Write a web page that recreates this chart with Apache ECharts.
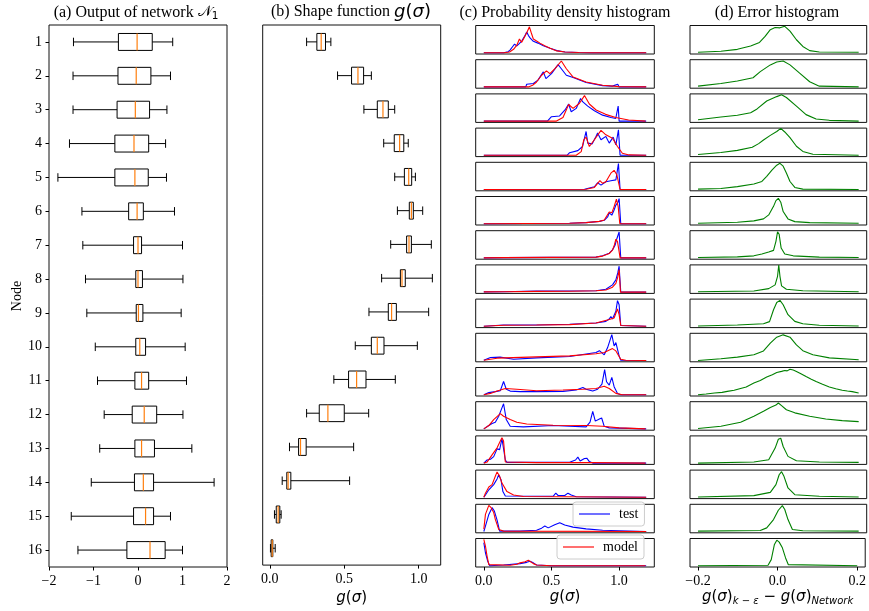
<!DOCTYPE html>
<html>
<head>
<meta charset="utf-8">
<script src="https://cdn.jsdelivr.net/npm/echarts@6/dist/echarts.min.js"></script>
<style>html,body{margin:0;padding:0;background:#fff;}#c{width:869px;height:611px;}</style>
</head>
<body>
<div id="c"></div>
<script>
// ---------------- data ----------------
const nodeLabels = ['1','2','3','4','5','6','7','8','9','10','11','12','13','14','15','16'];
// [whiskerLow, Q1, median, Q3, whiskerHigh]
const networkOutput = [
  [-1.45,-0.44,-0.02,0.32,0.78],[-1.46,-0.45,-0.04,0.29,0.73],[-1.46,-0.47,-0.06,0.26,0.65],
  [-1.54,-0.52,-0.09,0.24,0.62],[-1.80,-0.52,-0.07,0.23,0.64],[-1.26,-0.21,-0.02,0.12,0.82],
  [-1.24,-0.10,0.00,0.08,1.00],[-1.18,-0.05,0.00,0.10,1.01],[-1.15,-0.04,0.01,0.11,0.97],
  [-0.96,-0.05,0.04,0.17,1.06],[-0.91,-0.07,0.08,0.24,1.09],[-0.76,-0.13,0.14,0.42,1.01],
  [-0.86,-0.07,0.08,0.37,1.21],[-1.05,-0.08,0.12,0.35,1.71],[-1.50,-0.10,0.17,0.35,0.73],
  [-1.35,-0.25,0.27,0.61,1.00]
];
const shapeFunction = [
  [0.247,0.316,0.345,0.374,0.41],[0.455,0.549,0.592,0.63,0.682],[0.632,0.722,0.76,0.796,0.839],
  [0.765,0.836,0.872,0.90,0.93],[0.839,0.904,0.933,0.953,0.978],[0.857,0.937,0.951,0.964,1.027],
  [0.812,0.919,0.935,0.951,1.085],[0.751,0.877,0.888,0.91,1.092],[0.666,0.796,0.818,0.85,1.067],
  [0.574,0.682,0.722,0.767,0.991],[0.43,0.529,0.583,0.646,0.843],[0.247,0.332,0.39,0.50,0.664],
  [0.132,0.193,0.206,0.244,0.563],[0.083,0.114,0.123,0.141,0.536],[0.031,0.043,0.056,0.067,0.076],
  [0.004,0.009,0.016,0.020,0.036]
];
// probability density, test (blue) per node: [g, density(normalised)]
const densTest = [
  [[0,0],[0.146,0],[0.18,0.04],[0.195,0.11],[0.215,0.25],[0.227,0.33],[0.244,0.26],[0.26,0.34],[0.28,0.45],[0.3,0.62],[0.317,0.80],[0.33,0.66],[0.345,0.55],[0.366,0.44],[0.40,0.37],[0.44,0.27],[0.49,0.17],[0.54,0.08],[0.6,0.03],[0.7,0.01],[0.8,0],[1.2,0]],
  [[0,0],[0.31,0],[0.317,0.1],[0.366,0.13],[0.40,0.26],[0.44,0.58],[0.459,0.32],[0.5,0.51],[0.549,0.86],[0.573,0.70],[0.61,0.45],[0.66,0.36],[0.756,0.17],[0.878,0.05],[0.95,0.03],[0.99,0.1],[1.0,0],[1.2,0]],
  [[0,0],[0.47,0],[0.5,0.17],[0.56,0.2],[0.6,0.43],[0.627,0.66],[0.646,0.36],[0.683,0.49],[0.715,0.87],[0.73,0.75],[0.768,0.58],[0.817,0.40],[0.878,0.23],[0.94,0.14],[0.975,0.10],[0.993,0.58],[1.0,0],[1.2,0]],
  [[0,0],[0.615,0],[0.634,0.1],[0.695,0.18],[0.73,0.34],[0.744,0.66],[0.756,0.92],[0.768,0.47],[0.8,0.44],[0.829,0.73],[0.841,0.86],[0.866,0.6],[0.902,0.73],[0.927,0.47],[0.956,0.70],[0.976,0.40],[0.995,0.985],[1.007,0],[1.2,0]],
  [[0,0],[0.744,0.01],[0.817,0.107],[0.841,0.26],[0.866,0.17],[0.902,0.30],[0.939,0.34],[0.976,0.37],[0.995,1.0],[1.007,0],[1.2,0]],
  [[0,0],[0.634,0.015],[0.756,0.04],[0.854,0.09],[0.89,0.13],[0.915,0.26],[0.927,0.42],[0.946,0.33],[0.963,0.53],[0.976,0.72],[0.99,0.81],[1.0,0.97],[1.012,0],[1.2,0]],
  [[0,0],[0.146,0.01],[0.5,0.02],[0.829,0.03],[0.878,0.08],[0.927,0.18],[0.951,0.31],[0.971,0.5],[0.98,0.69],[0.993,0.69],[1.0,1.0],[1.012,0],[1.2,0]],
  [[0,0.01],[0.146,0.015],[0.39,0.04],[0.634,0.04],[0.829,0.055],[0.902,0.11],[0.951,0.28],[0.976,0.47],[0.99,0.74],[1.0,1.0],[1.012,0],[1.2,0]],
  [[0,0],[0.146,0.05],[0.39,0.05],[0.634,0.08],[0.829,0.13],[0.902,0.19],[0.927,0.28],[0.939,0.38],[0.951,0.28],[0.976,0.58],[0.988,0.99],[1.0,0.83],[1.012,0.03],[1.024,0],[1.2,0]],
  [[0,0.01],[0.049,0.116],[0.12,0.13],[0.22,0.05],[0.39,0.1],[0.634,0.155],[0.829,0.31],[0.854,0.38],[0.89,0.22],[0.915,0.5],[0.946,1.0],[0.963,0.56],[0.976,0.69],[1.0,0.18],[1.012,0.01],[1.2,0]],
  [[0,0],[0.037,0.08],[0.085,0.12],[0.122,0.155],[0.146,0.51],[0.166,0.21],[0.195,0.14],[0.268,0.12],[0.39,0.12],[0.585,0.13],[0.683,0.18],[0.732,0.28],[0.756,0.21],[0.805,0.14],[0.841,0.21],[0.873,0.41],[0.893,0.97],[0.907,0.5],[0.927,0.37],[0.946,0.67],[0.963,0.31],[0.988,0.05],[1.012,0],[1.2,0]],
  [[0,0],[0.037,0.13],[0.061,0.21],[0.085,0.26],[0.11,0.49],[0.134,0.81],[0.146,0.97],[0.166,0.36],[0.195,0.10],[0.293,0.08],[0.512,0.13],[0.634,0.10],[0.756,0.08],[0.785,0.26],[0.805,0.68],[0.824,0.30],[0.854,0.38],[0.871,0.42],[0.89,0.10],[0.927,0.04],[1.2,0]],
  [[0,0],[0.024,0.12],[0.049,0.15],[0.073,0.25],[0.098,0.55],[0.117,0.52],[0.134,0.94],[0.146,0.94],[0.159,0.12],[0.171,0.03],[0.634,0.03],[0.678,0.12],[0.695,0.23],[0.712,0.08],[0.744,0.18],[0.761,0.19],[0.78,0.06],[0.805,0],[1.2,0]],
  [[0,0],[0.012,0.09],[0.037,0.29],[0.073,0.49],[0.098,0.71],[0.11,0.87],[0.127,0.68],[0.141,0.22],[0.159,0.05],[0.512,0.04],[0.532,0.16],[0.549,0.07],[0.598,0.07],[0.622,0.16],[0.646,0.09],[0.683,0.02],[1.2,0]],
  [[0,0],[0.012,0.21],[0.037,0.66],[0.061,0.92],[0.078,0.79],[0.098,0.44],[0.117,0.015],[0.268,0.015],[0.39,0.05],[0.427,0.13],[0.451,0.21],[0.476,0.14],[0.524,0.26],[0.561,0.34],[0.598,0.25],[0.659,0.17],[0.756,0.1],[0.878,0.05],[1.0,0.03],[1.2,0]],
  [[0,0.89],[0.012,0.5],[0.029,0.17],[0.044,0],[0.146,0.03],[0.268,0.08],[0.317,0.13],[0.341,0.17],[0.366,0.11],[0.39,0.03],[0.5,0],[1.2,0]]
];
// probability density, model (red) per node
const densModel = [
  [[0,0],[0.15,0],[0.19,0.03],[0.22,0.13],[0.245,0.3],[0.263,0.53],[0.28,0.4],[0.3,0.6],[0.32,0.8],[0.337,1.0],[0.35,0.78],[0.366,0.53],[0.39,0.45],[0.415,0.37],[0.45,0.27],[0.49,0.17],[0.54,0.07],[0.6,0.03],[0.7,0.01],[0.8,0],[1.2,0]],
  [[0,0],[0.33,0],[0.36,0.06],[0.39,0.19],[0.427,0.45],[0.463,0.62],[0.488,0.51],[0.524,0.70],[0.573,1.0],[0.61,0.70],[0.66,0.38],[0.756,0.19],[0.878,0.065],[1.0,0.01],[1.2,0]],
  [[0,0],[0.537,0],[0.585,0.14],[0.627,0.64],[0.66,0.49],[0.707,0.69],[0.744,0.985],[0.78,0.66],[0.83,0.43],[0.90,0.26],[0.975,0.14],[1.07,0.04],[1.195,0]],
  [[0,0],[0.683,0],[0.72,0.14],[0.739,0.6],[0.756,0.7],[0.78,0.34],[0.817,0.6],[0.866,0.96],[0.902,0.79],[0.951,0.66],[0.988,0.34],[1.024,0.08],[1.073,0.015],[1.2,0]],
  [[0,0],[0.756,0.01],[0.817,0.08],[0.858,0.34],[0.878,0.24],[0.902,0.30],[0.939,0.63],[0.963,0.74],[0.983,0.57],[1.007,0],[1.2,0]],
  [[0,0],[0.634,0.015],[0.756,0.04],[0.854,0.09],[0.89,0.14],[0.927,0.45],[0.946,0.42],[0.963,0.66],[0.98,0.95],[0.993,0.66],[1.005,0],[1.2,0]],
  [[0,0],[0.146,0.01],[0.5,0.02],[0.829,0.03],[0.878,0.07],[0.927,0.17],[0.951,0.3],[0.965,0.5],[0.976,0.72],[0.988,0.63],[0.998,0.31],[1.007,0],[1.2,0]],
  [[0,0.01],[0.146,0.015],[0.39,0.03],[0.634,0.035],[0.829,0.05],[0.902,0.08],[0.951,0.19],[0.976,0.34],[0.99,0.58],[1.0,0.87],[1.01,0],[1.2,0]],
  [[0,0],[0.146,0.04],[0.39,0.05],[0.634,0.065],[0.829,0.13],[0.927,0.26],[0.963,0.32],[0.988,0.67],[1.0,0.45],[1.012,0.03],[1.024,0],[1.2,0]],
  [[0,0.01],[0.098,0.09],[0.39,0.14],[0.634,0.18],[0.829,0.26],[0.89,0.31],[0.951,0.46],[0.976,0.37],[1.012,0.05],[1.049,0.01],[1.2,0]],
  [[0,0],[0.049,0.05],[0.098,0.14],[0.159,0.24],[0.244,0.21],[0.39,0.155],[0.585,0.18],[0.732,0.21],[0.829,0.24],[0.89,0.33],[0.927,0.24],[0.976,0.05],[1.024,0],[1.2,0]],
  [[0,0],[0.037,0.13],[0.073,0.36],[0.122,0.59],[0.146,0.49],[0.195,0.36],[0.244,0.26],[0.317,0.19],[0.512,0.14],[0.756,0.13],[0.878,0.10],[1.0,0.04],[1.195,0]],
  [[0,0],[0.024,0.04],[0.061,0.32],[0.098,0.59],[0.122,0.85],[0.134,0.98],[0.146,0.85],[0.159,0.04],[0.39,0.02],[0.805,0.02],[1.195,0]],
  [[0,0],[0.012,0.16],[0.037,0.4],[0.061,0.49],[0.085,0.81],[0.098,0.98],[0.117,0.81],[0.134,0.55],[0.171,0.22],[0.22,0.09],[0.293,0.03],[1.2,0]],
  [[0,0.09],[0.012,0.66],[0.037,1.01],[0.054,0.92],[0.073,0.73],[0.085,0.47],[0.11,0.08],[0.146,0.015],[1.2,0]],
  [[0,1.02],[0.012,0.76],[0.024,0.37],[0.037,0.04],[0.049,0],[0.195,0.015],[0.244,0.055],[0.268,0.11],[0.305,0.15],[0.329,0.21],[0.341,0.17],[0.366,0.08],[0.39,0.03],[0.5,0],[1.195,0]]
];
// error histogram per node: [error, density(normalised)]
const errHist = [
  [[-0.2,0.015],[-0.143,0.055],[-0.102,0.13],[-0.069,0.26],[-0.047,0.395],[-0.033,0.63],[-0.02,0.89],[-0.008,0.97],[0.004,0.96],[0.016,1.02],[0.029,0.83],[0.045,0.5],[0.061,0.24],[0.078,0.08],[0.102,0.03],[0.2,0.015]],
  [[-0.2,0.03],[-0.143,0.13],[-0.102,0.225],[-0.063,0.355],[-0.045,0.59],[-0.02,0.85],[-0.004,0.96],[0.012,1.0],[0.029,0.85],[0.053,0.53],[0.078,0.2],[0.102,0.03],[0.2,0]],
  [[-0.2,0.055],[-0.143,0.16],[-0.102,0.225],[-0.069,0.32],[-0.053,0.47],[-0.029,0.775],[-0.004,0.945],[0.008,1.02],[0.02,0.91],[0.045,0.58],[0.069,0.25],[0.094,0.08],[0.127,0.03],[0.2,0]],
  [[-0.2,0.03],[-0.143,0.11],[-0.102,0.19],[-0.065,0.31],[-0.049,0.45],[-0.037,0.59],[-0.02,0.77],[-0.004,0.92],[0.006,1.04],[0.016,0.9],[0.029,0.68],[0.045,0.35],[0.061,0.15],[0.086,0.04],[0.2,0]],
  [[-0.2,0.015],[-0.143,0.04],[-0.102,0.11],[-0.061,0.215],[-0.041,0.31],[-0.029,0.51],[-0.016,0.75],[-0.004,0.94],[0.004,1.01],[0.012,0.9],[0.02,0.64],[0.029,0.31],[0.041,0.08],[0.061,0.015],[0.2,0]],
  [[-0.2,0.015],[-0.102,0.055],[-0.061,0.11],[-0.037,0.185],[-0.024,0.34],[-0.012,0.67],[-0.006,0.89],[0,0.98],[0.006,0.83],[0.012,0.47],[0.024,0.185],[0.041,0.08],[0.078,0.04],[0.2,0.015]],
  [[-0.2,0.015],[-0.102,0.04],[-0.061,0.08],[-0.041,0.15],[-0.024,0.225],[-0.012,0.29],[-0.006,0.64],[-0.002,1.01],[0.002,0.91],[0.007,0.38],[0.016,0.15],[0.037,0.08],[0.102,0.03],[0.2,0.015]],
  [[-0.2,0.015],[-0.061,0.04],[-0.024,0.135],[-0.008,0.28],[-0.002,0.61],[0.001,1.04],[0.004,0.61],[0.008,0.24],[0.02,0.11],[0.061,0.055],[0.2,0.015]],
  [[-0.2,0.014],[-0.102,0.05],[-0.037,0.1],[-0.022,0.18],[-0.012,0.64],[-0.004,0.92],[0.004,1.0],[0.012,0.83],[0.024,0.45],[0.041,0.19],[0.061,0.1],[0.102,0.04],[0.2,0.014]],
  [[-0.2,0],[-0.143,0.065],[-0.102,0.13],[-0.061,0.22],[-0.037,0.37],[-0.02,0.67],[-0.004,0.9],[0.012,0.99],[0.029,0.9],[0.045,0.6],[0.061,0.38],[0.086,0.22],[0.127,0.1],[0.2,0.03]],
  [[-0.2,0],[-0.18,0.03],[-0.159,0.065],[-0.14,0.09],[-0.127,0.13],[-0.11,0.17],[-0.094,0.24],[-0.08,0.3],[-0.061,0.45],[-0.045,0.55],[-0.029,0.68],[-0.015,0.77],[-0.004,0.86],[0.008,0.9],[0.016,0.935],[0.022,0.92],[0.029,0.985],[0.037,0.95],[0.045,0.9],[0.055,0.82],[0.069,0.7],[0.082,0.6],[0.094,0.51],[0.11,0.4],[0.127,0.3],[0.143,0.23],[0.159,0.17],[0.172,0.14],[0.184,0.12],[0.2,0.065]],
  [[-0.2,0.014],[-0.143,0.10],[-0.094,0.26],[-0.061,0.49],[-0.037,0.68],[-0.02,0.83],[-0.006,0.92],[0,1.0],[0.008,0.9],[0.02,0.74],[0.041,0.62],[0.078,0.49],[0.118,0.38],[0.159,0.32],[0.2,0.28]],
  [[-0.2,0],[-0.061,0.04],[-0.024,0.13],[-0.008,0.58],[0,0.92],[0.006,0.96],[0.012,0.64],[0.024,0.26],[0.045,0.09],[0.102,0.04],[0.2,0.027]],
  [[-0.2,0.014],[-0.061,0.065],[-0.02,0.19],[-0.006,0.49],[0.002,0.87],[0.008,0.99],[0.014,0.81],[0.024,0.36],[0.041,0.1],[0.102,0.04],[0.2,0.014]],
  [[-0.2,0.014],[-0.045,0.04],[-0.029,0.14],[-0.012,0.46],[0,0.82],[0.01,1.0],[0.016,0.85],[0.024,0.46],[0.035,0.08],[0.061,0.027],[0.2,0.014]],
  [[-0.2,0],[-0.024,0.015],[-0.016,0.235],[-0.008,0.82],[-0.002,0.985],[0.004,0.91],[0.012,0.69],[0.02,0.3],[0.027,0.04],[0.2,0]]
];
const ticksA = [-2,-1,0,1,2];
const ticksB = [0,0.5,1.0];
const ticksC = [0,0.5,1.0];
const ticksD = [-0.2,0,0.2];

// ---------------- chart ----------------
const SERIF = "'Liberation Serif','Times New Roman',serif";
const MATH = "'DejaVu Sans'";
const fmt1 = v => (v < 0 ? '\u2212' : '') + Math.abs(v).toFixed(1);
const fmt0 = v => (v < 0 ? '\u2212' : '') + Math.abs(v).toFixed(0);
const mathRich = {
  i: {fontFamily: MATH, fontStyle: 'italic', fontSize: 15, color: '#000'},
  r: {fontFamily: MATH, fontSize: 15, color: '#000'},
  s: {fontFamily: MATH, fontStyle: 'italic', fontSize: 10, color: '#000', padding: [8, 0, 0, 0]},
  t: {fontFamily: SERIF, fontSize: 16, color: '#000'}
};

function boxRender(params, api) {
  const cat = api.value(0);
  const v = [1,2,3,4,5].map(k => api.coord([api.value(k), cat])[0]);
  const yc = api.coord([api.value(1), cat])[1];
  const bh = api.size([0, 1])[1] * 0.25;
  const ch = bh * 0.5;
  const ls = {stroke: '#000', lineWidth: 1};
  return {type: 'group', children: [
    {type: 'line', shape: {x1: v[0], y1: yc, x2: v[1], y2: yc}, style: ls},
    {type: 'line', shape: {x1: v[3], y1: yc, x2: v[4], y2: yc}, style: ls},
    {type: 'line', shape: {x1: v[0], y1: yc - ch, x2: v[0], y2: yc + ch}, style: ls},
    {type: 'line', shape: {x1: v[4], y1: yc - ch, x2: v[4], y2: yc + ch}, style: ls},
    {type: 'rect', shape: {x: v[1], y: yc - bh, width: v[3] - v[1], height: 2 * bh}, style: {fill: 'none', stroke: '#000', lineWidth: 1}},
    {type: 'line', shape: {x1: v[2], y1: yc - bh, x2: v[2], y2: yc + bh}, style: {stroke: '#ff7f0e', lineWidth: 1.2}}
  ]};
}

const grids = [], xAxes = [], yAxes = [], series = [];
const frame = {show: true, borderColor: '#111', borderWidth: 1, backgroundColor: 'transparent'};
// panel a
grids.push(Object.assign({left: 49, top: 25, width: 178, height: 542}, frame));
xAxes.push({gridIndex: 0, type: 'value', min: -2, max: 2, interval: 1,
  axisLine: {show: false, onZero: false}, splitLine: {show: false},
  axisTick: {show: true, length: 3.5, lineStyle: {color: '#000'}},
  axisLabel: {formatter: fmt0, fontFamily: SERIF, fontSize: 14, color: '#000', margin: 7}});
yAxes.push({gridIndex: 0, type: 'category', data: nodeLabels, inverse: true,
  axisLine: {show: false, onZero: false}, splitLine: {show: false},
  axisTick: {show: true, alignWithLabel: true, length: 3.5, lineStyle: {color: '#000'}},
  axisLabel: {fontFamily: SERIF, fontSize: 14, color: '#000', margin: 7},
  name: 'Node', nameLocation: 'middle', nameGap: 25, nameRotate: 90,
  nameTextStyle: {fontFamily: SERIF, fontSize: 14, color: '#000'}});
series.push({type: 'custom', xAxisIndex: 0, yAxisIndex: 0, renderItem: boxRender,
  encode: {x: [1,2,3,4,5], y: 0}, data: networkOutput.map((s, i) => [i].concat(s))});
// panel b
grids.push(Object.assign({left: 262.7, top: 25, width: 178, height: 542}, frame));
xAxes.push({gridIndex: 1, type: 'value', min: -0.048, max: 1.148,
  axisLine: {show: false, onZero: false}, splitLine: {show: false},
  axisTick: {show: true, length: 3.5, customValues: ticksB, lineStyle: {color: '#000'}},
  axisLabel: {customValues: ticksB, formatter: fmt1, fontFamily: SERIF, fontSize: 14, color: '#000', margin: 7},
  name: '{i|g}{r|(}{i|σ}{r|)}', nameLocation: 'middle', nameGap: 23,
  nameTextStyle: {rich: mathRich}});
yAxes.push({gridIndex: 1, type: 'category', data: nodeLabels, inverse: true,
  axisLine: {show: false, onZero: false}, axisTick: {show: false}, axisLabel: {show: false}, splitLine: {show: false}});
series.push({type: 'custom', xAxisIndex: 1, yAxisIndex: 1, renderItem: boxRender,
  encode: {x: [1,2,3,4,5], y: 0}, data: shapeFunction.map((s, i) => [i].concat(s))});

// panels c and d
for (let i = 0; i < 16; i++) {
  const top = 25.5 + i * 34.2;
  const last = i === 15;
  [['c', 475.7, 178.6, -0.06, 1.26, ticksC], ['d', 690, 176.7, -0.22, 0.22, ticksD]].forEach(p => {
    const gi = grids.length;
    grids.push(Object.assign({left: p[1], top: top, width: p[2], height: 28.5}, frame));
    const xa = {gridIndex: gi, type: 'value', min: p[3], max: p[4],
      axisLine: {show: false, onZero: false}, splitLine: {show: false},
      axisTick: {show: last, length: 3.5, customValues: p[5], lineStyle: {color: '#000'}},
      axisLabel: {show: last, customValues: p[5], formatter: fmt1, fontFamily: SERIF, fontSize: 14, color: '#000', margin: 7}};
    if (last) {
      xa.nameLocation = 'middle';
      xa.nameTextStyle = {rich: mathRich};
      if (p[0] === 'c') { xa.name = '{i|g}{r|(}{i|σ}{r|)}'; xa.nameGap = 23; }
      else { xa.name = '{i|g}{r|(}{i|σ}{r|)}{s|k − ε}{r| − }{i|g}{r|(}{i|σ}{r|)}{s|Network}'; xa.nameGap = 21; }
    }
    xAxes.push(xa);
    yAxes.push({gridIndex: gi, type: 'value', min: -0.05, max: 1.05, show: false, axisLine: {onZero: false}});
    if (p[0] === 'c') {
      series.push({type: 'line', name: 'test', xAxisIndex: gi, yAxisIndex: gi, data: densTest[i],
        symbol: 'none', showSymbol: false, color: '#0000ff', lineStyle: {width: 1.1, color: '#0000ff'}, z: 2});
      series.push({type: 'line', name: 'model', xAxisIndex: gi, yAxisIndex: gi, data: densModel[i],
        symbol: 'none', showSymbol: false, color: '#ff0000', lineStyle: {width: 1.1, color: '#ff0000'}, z: 3});
    } else {
      series.push({type: 'line', name: 'error', xAxisIndex: gi, yAxisIndex: gi, data: errHist[i],
        symbol: 'none', showSymbol: false, color: '#008000', lineStyle: {width: 1.1, color: '#008000'}, z: 2});
    }
  });
}

const titleStyle = {fontFamily: SERIF, fontSize: 16, fontWeight: 'normal', color: '#000',
  rich: {
    t: {fontFamily: SERIF, fontSize: 16, color: '#000'},
    n: {fontFamily: "'DejaVu Sans','Noto Sans'", fontSize: 15, color: '#000'},
    sub: {fontFamily: "'DejaVu Sans'", fontSize: 10.5, color: '#000', padding: [8, 0, 0, 0]},
    i: {fontFamily: MATH, fontStyle: 'italic', fontSize: 18, color: '#000'},
    r: {fontFamily: MATH, fontSize: 18, color: '#000'}
  }};
const legendBase = {orient: 'horizontal', selectedMode: false, backgroundColor: 'rgba(255,255,255,0.8)',
  borderColor: '#cccccc', borderWidth: 1, borderRadius: 3, icon: 'rect', itemWidth: 31, itemHeight: 1.5,
  padding: [5, 6, 5, 6], itemStyle: {opacity: 0.75},
  textStyle: {fontFamily: SERIF, fontSize: 14, color: '#000', padding: [0, 0, 0, 4], lineHeight: 14}, z: 10};

const option = {
  animation: false,
  backgroundColor: '#fff',
  title: [
    {text: '{t|(a) Output of network }{n|𝒩}{sub|1}', left: 136, top: 3, textAlign: 'center', textStyle: titleStyle, padding: 0},
    {text: '{t|(b) Shape function }{i|g}{r|(}{i|σ}{r|)}', left: 351, top: 3, textAlign: 'center', textStyle: titleStyle, padding: 0},
    {text: '(c) Probability density histogram', left: 565, top: 5, textAlign: 'center', textStyle: titleStyle, padding: 0},
    {text: '(d) Error histogram', left: 777, top: 5, textAlign: 'center', textStyle: titleStyle, padding: 0}
  ],
  legend: [
    Object.assign({data: ['test'], left: 573, top: 502}, legendBase),
    Object.assign({data: ['model'], left: 557, top: 535}, legendBase)
  ],
  grid: grids,
  xAxis: xAxes,
  yAxis: yAxes,
  series: series
};
const chart = echarts.init(document.getElementById('c'), null, {renderer: 'canvas'});
chart.setOption(option);
</script>
</body>
</html>
